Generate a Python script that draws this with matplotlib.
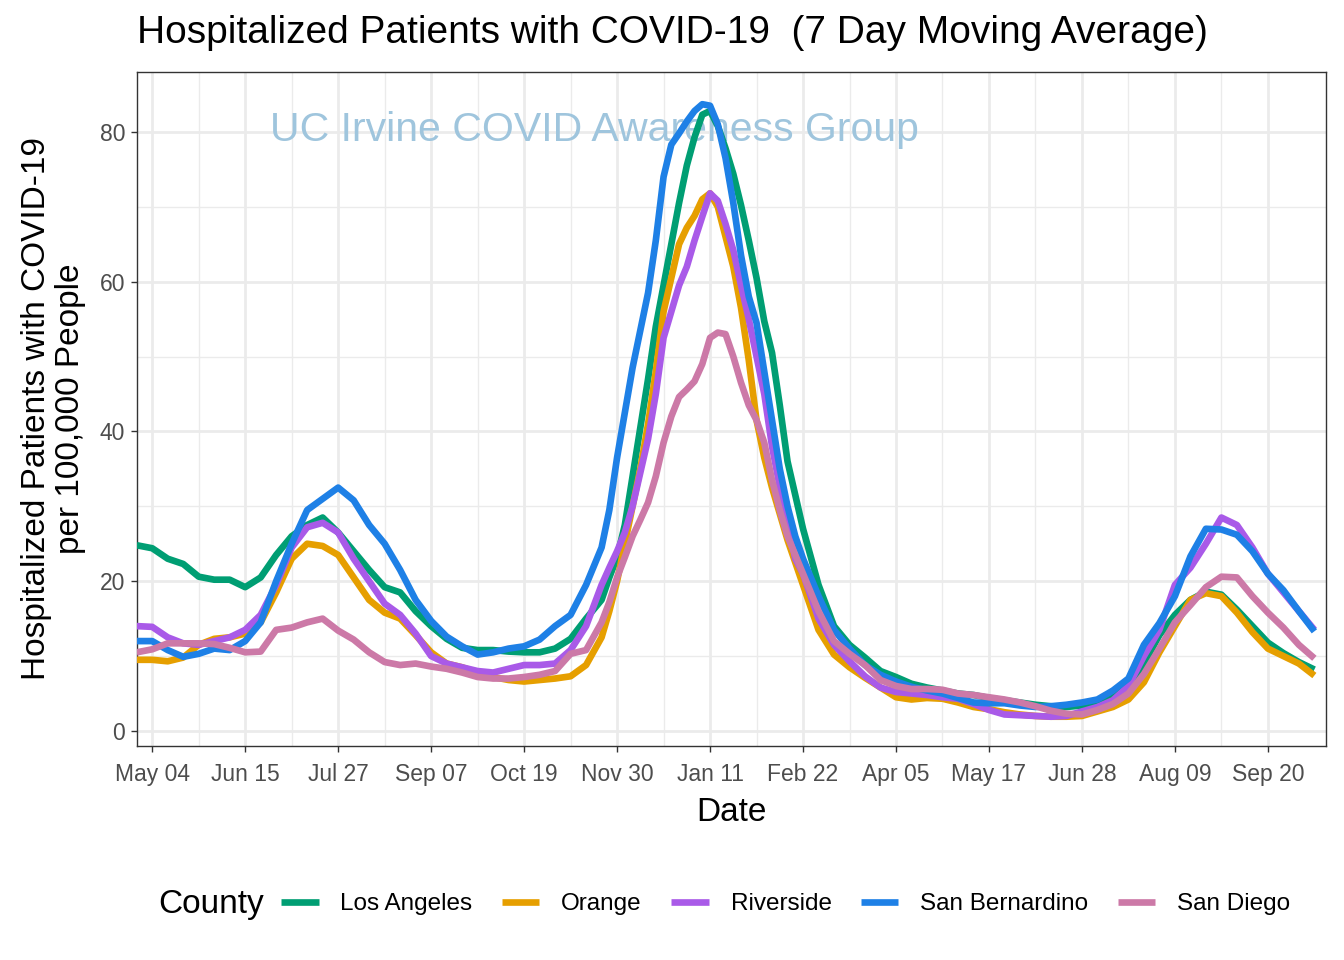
import matplotlib
matplotlib.use("Agg")
import matplotlib.pyplot as plt
import matplotlib.dates as mdates
import pandas as pd

plt.rcParams['font.family'] = ['Liberation Sans', 'DejaVu Sans']

# 7 day moving average:
# weekly Apr 27 - Nov 16 2020, every 3.5 days over the winter peak, weekly again Mar 1 - Oct 11 2021
dates = (pd.date_range("2020-04-27", periods=30, freq="7D")
         .append(pd.date_range("2020-11-23", periods=27, freq="84h"))
         .append(pd.date_range("2021-03-01", periods=33, freq="7D")))

los_angeles = [24.8, 24.4, 23.0, 22.3, 20.6, 20.2, 20.2, 19.2, 20.5, 23.5,
               26.0, 27.5, 28.5, 26.5, 24.0, 21.5, 19.2, 18.5, 16.0, 14.0,
               12.3, 11.1, 10.8, 10.8, 10.6, 10.5, 10.5, 11.0, 12.3, 15.0,
               # winter peak
               17.5, 20.5, 23.2, 27.5, 34.0, 40.5, 47.0, 54.0, 59.5, 65.0,
               70.5, 75.5, 79.3, 82.3, 82.8, 80.8, 77.8, 74.4, 70.2, 65.5,
               60.5, 54.7, 50.5, 43.5, 36.0, 31.5, 27.0,
               # 2021
               19.5, 14.0, 11.5, 9.8, 8.0, 7.2, 6.3, 5.8, 5.4, 5.0,
               4.8, 4.4, 4.1, 3.8, 3.5, 3.3, 3.2, 3.4, 3.8, 4.5,
               6.0, 9.0, 12.8, 15.5, 17.5, 18.6, 18.2, 16.2, 14.0, 11.8,
               10.4, 9.2, 8.2]

orange = [9.5, 9.5, 9.3, 9.8, 11.5, 12.3, 12.5, 13.0, 14.5, 18.5,
          23.0, 25.0, 24.7, 23.5, 20.5, 17.5, 15.8, 15.0, 12.8, 10.5,
          9.0, 8.5, 7.8, 7.2, 6.8, 6.6, 6.8, 7.0, 7.3, 8.8,
          12.5, 16.0, 20.0, 25.0, 30.0, 35.0, 41.0, 48.0, 56.0, 60.5,
          65.0, 67.2, 68.8, 71.0, 71.8, 70.0, 66.0, 62.0, 56.5, 49.5,
          41.5, 36.5, 32.5, 29.0, 25.5, 22.5, 19.5,
          13.5, 10.2, 8.5, 7.1, 5.8, 4.5, 4.2, 4.4, 4.3, 3.8,
          3.2, 2.9, 2.5, 2.2, 2.0, 1.9, 1.9, 2.0, 2.6, 3.2,
          4.2, 6.5, 10.5, 14.0, 17.5, 18.4, 18.0, 15.8, 13.2, 11.0,
          10.0, 9.0, 7.4]

riverside = [14.0, 13.9, 12.5, 11.7, 11.5, 12.0, 12.5, 13.5, 15.5, 19.5,
             24.5, 27.2, 27.8, 26.5, 23.0, 20.0, 17.0, 15.5, 13.0, 10.0,
             9.0, 8.5, 8.0, 7.8, 8.3, 8.8, 8.8, 9.0, 10.8, 14.0,
             19.5, 21.8, 24.0, 26.5, 30.0, 34.5, 39.0, 45.0, 52.5, 56.0,
             59.5, 62.0, 65.5, 68.7, 71.8, 70.8, 67.7, 64.2, 59.5, 55.0,
             50.0, 45.0, 38.0, 32.6, 28.0, 23.0, 21.0,
             15.0, 11.5, 9.3, 7.3, 5.8, 5.2, 5.0, 4.8, 4.5, 4.3,
             3.6, 2.8, 2.2, 2.1, 2.0, 1.9, 2.0, 2.6, 3.2, 4.1,
             6.0, 10.0, 13.5, 19.5, 21.8, 25.0, 28.5, 27.5, 24.5, 21.0,
             18.5, 16.0, 13.5]

san_bernardino = [12.0, 12.0, 10.8, 9.9, 10.3, 11.0, 10.8, 12.0, 14.5, 20.0,
                  25.0, 29.5, 31.0, 32.5, 30.8, 27.5, 25.0, 21.5, 17.5, 14.7,
                  12.6, 11.3, 10.2, 10.5, 11.0, 11.3, 12.2, 14.0, 15.5, 19.5,
                  24.5, 29.5, 36.5, 42.5, 48.5, 53.5, 58.5, 65.5, 74.0, 78.3,
                  79.8, 81.4, 82.8, 83.7, 83.5, 81.0, 76.5, 70.5, 63.5, 58.0,
                  54.5, 48.0, 41.5, 35.0, 30.0, 26.0, 23.0,
                  18.0, 13.5, 11.0, 8.8, 7.5, 6.6, 5.9, 5.4, 5.0, 4.4,
                  3.8, 3.7, 3.7, 3.4, 3.2, 3.3, 3.5, 3.8, 4.2, 5.4,
                  7.0, 11.5, 14.4, 18.0, 23.3, 27.0, 26.9, 26.2, 24.0, 21.0,
                  18.8, 16.0, 13.3]

san_diego = [10.5, 10.9, 11.7, 11.7, 11.7, 11.6, 11.1, 10.5, 10.6, 13.5,
             13.8, 14.5, 15.0, 13.4, 12.2, 10.5, 9.2, 8.8, 9.0, 8.6,
             8.3, 7.8, 7.2, 7.0, 7.0, 7.2, 7.5, 8.0, 10.3, 10.8,
             14.5, 17.2, 20.5, 23.2, 26.0, 28.2, 30.5, 34.0, 38.5, 42.0,
             44.6, 45.6, 46.7, 49.0, 52.5, 53.2, 53.0, 50.0, 46.5, 43.5,
             41.5, 38.5, 33.5, 29.5, 26.0, 23.5, 21.0,
             16.0, 12.0, 10.3, 8.8, 6.8, 6.0, 5.6, 5.6, 5.5, 5.0,
             4.8, 4.5, 4.2, 3.8, 3.3, 2.7, 2.3, 2.2, 2.8, 3.6,
             5.0, 7.6, 11.0, 14.5, 16.8, 19.2, 20.6, 20.5, 18.0, 15.8,
             13.8, 11.5, 9.7]

counties = ["Los Angeles", "Orange", "Riverside", "San Bernardino", "San Diego"]
series = [los_angeles, orange, riverside, san_bernardino, san_diego]
colors = ["#009E73", "#E69F00", "#A95AE8", "#1E80E6", "#CC79A7"]

fig = plt.figure(figsize=(13.44, 9.6), dpi=100)
ax = fig.add_axes([0.102, 0.223, 0.8846, 0.702])

# watermark sits behind the lines
ax.text(pd.Timestamp("2020-06-26"), 80.2, "UC Irvine COVID Awareness Group",
        color="#9fc5dd", fontsize=29.5, ha="left", va="center", zorder=1)

handles = []
for name, vals, col in zip(counties, series, colors):
    h, = ax.plot(dates, vals, color=col, lw=4.8, solid_capstyle="butt",
                 solid_joinstyle="round", label=name, zorder=3)
    handles.append(h)

# ticks first: set_xticks would otherwise widen the limits
xt = pd.date_range("2020-05-04", periods=13, freq="42D")
ax.set_xticks(xt)
ax.set_xticks(pd.date_range("2020-05-25", periods=12, freq="42D"), minor=True)
ax.xaxis.set_major_formatter(mdates.DateFormatter("%b %d"))
ax.set_yticks([0, 20, 40, 60, 80])
ax.set_yticks([10, 30, 50, 70], minor=True)

ax.set_xlim(pd.Timestamp("2020-04-27 04:00"), pd.Timestamp("2021-10-16 06:00"))
ax.set_ylim(-2, 88)

ax.grid(which="major", color="#EBEBEB", lw=2.0, zorder=0)
ax.grid(which="minor", color="#EBEBEB", lw=1.0, zorder=0)
ax.set_axisbelow(True)
for s in ax.spines.values():
    s.set_color("#333333")
    s.set_linewidth(1.0)
ax.tick_params(which="major", length=4.5, width=1.0, color="#333333",
               labelcolor="#4D4D4D", labelsize=16.5, pad=4)
ax.tick_params(axis="x", which="major", pad=7.5)
ax.tick_params(which="minor", length=0)

ax.set_xlabel("Date", fontsize=24, labelpad=8)
ax.set_ylabel("Hospitalized Patients with COVID-19\nper 100,000 People",
              fontsize=24, labelpad=10, linespacing=1.12)
fig.text(0.102, 0.966, "Hospitalized Patients with COVID-19  (7 Day Moving Average)",
         fontsize=28, ha="left", va="center")

fig.text(0.1175, 0.058, "County", fontsize=24, ha="left", va="center")
fig.legend(handles=handles, labels=counties, loc="center left",
           bbox_to_anchor=(0.1927, 0.058), ncol=5, frameon=False,
           fontsize=17.5, handlelength=1.55, handletextpad=0.9,
           columnspacing=1.2)

fig.savefig("out.png", dpi=100)
